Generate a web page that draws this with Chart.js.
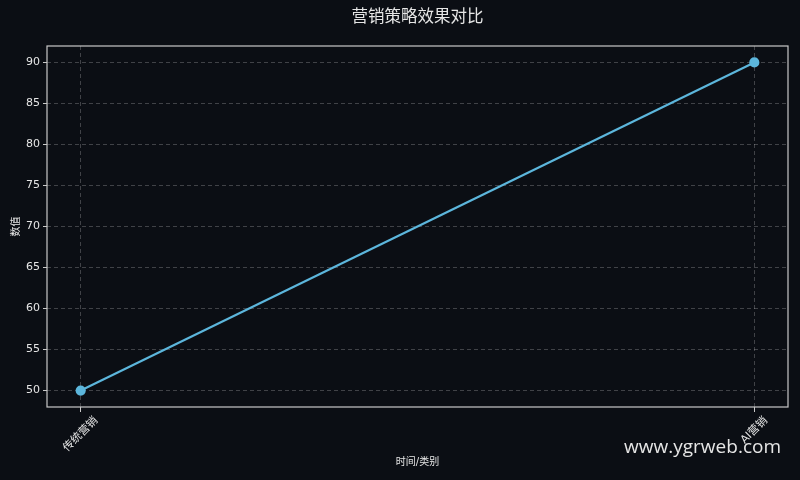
<!DOCTYPE html>
<html>
<head>
<meta charset="utf-8">
<script src="https://cdn.jsdelivr.net/npm/chart.js@4"></script>
<style>
html,body{margin:0;padding:0;background:#0b0e14;}
#wrap{width:800px;height:480px;position:relative;}
</style>
</head>
<body>
<div id="wrap"><canvas id="c" width="800" height="480"></canvas></div>
<script>
const categories = ["传统营销", "AI营销"];
const values = [50, 90];
const yTicks = [50, 55, 60, 65, 70, 75, 80, 85, 90];
const chartTitle = "营销策略效果对比";
const xTitle = "时间/类别";
const yTitle = "数值";
const watermark = "www.ygrweb.com";

const FONT = "'DejaVu Sans', 'Noto Sans CJK SC', sans-serif";
const gridColor = "rgba(255,255,255,0.22)";
const frameColor = "#c9c9c9";
const textColor = "#e6e6e6";
const lineColor = "#5cb6dc";

const framePlugin = {
  id: 'frame',
  beforeDraw(chart) {
    const ctx = chart.ctx;
    ctx.save();
    ctx.fillStyle = '#0b0e14';
    ctx.fillRect(0, 0, chart.width, chart.height);
    ctx.restore();
  },
  afterDraw(chart) {
    const {ctx, chartArea: a} = chart;
    ctx.save();
    ctx.strokeStyle = frameColor;
    ctx.lineWidth = 1.2;
    ctx.strokeRect(a.left, a.top, a.right - a.left, a.bottom - a.top);

    // title centred over the plot area
    ctx.fillStyle = textColor;
    ctx.font = "16.5px " + FONT;
    ctx.textAlign = 'center';
    ctx.textBaseline = 'middle';
    ctx.fillText(chartTitle, (a.left + a.right) / 2, 18);

    // rotated category labels, centred under their ticks (45°)
    const xs = chart.scales.x;
    const fs = 11;
    ctx.font = fs + "px " + FONT;
    categories.forEach((c, i) => {
      const px = xs.getPixelForValue(i);
      const w = ctx.measureText(c).width;
      const bb = (w + fs) * Math.SQRT1_2;
      const cy = a.bottom + 8 + bb / 2;
      ctx.save();
      ctx.translate(px, cy);
      ctx.rotate(-Math.PI / 4);
      ctx.fillText(c, 0, 0);
      ctx.restore();
    });

    ctx.font = "19px 'Open Sans', 'DejaVu Sans', sans-serif";
    ctx.textAlign = 'right';
    ctx.fillText(watermark, 781, 448);
    ctx.restore();
  }
};

new Chart(document.getElementById('c'), {
  type: 'line',
  data: {
    datasets: [{
      data: values.map((v, i) => ({x: i, y: v})),
      borderColor: lineColor,
      backgroundColor: lineColor,
      borderWidth: 2.2,
      pointRadius: 4,
      pointHoverRadius: 4,
      fill: false,
      tension: 0
    }]
  },
  options: {
    responsive: false,
    animation: false,
    devicePixelRatio: 1,
    layout: {padding: {left: 0, right: 12, top: 46, bottom: 0}},
    plugins: {
      legend: {display: false},
      tooltip: {enabled: false},
      title: {display: false}
    },
    scales: {
      x: {
        type: 'linear',
        min: -0.05,
        max: 1.05,
        afterBuildTicks: (s) => { s.ticks = categories.map((c, i) => ({value: i})); },
        afterFit: (s) => { s.height = 73; },
        ticks: {display: false},
        grid: {
          color: gridColor,
          tickColor: frameColor,
          tickLength: 5,
          drawTicks: true
        },
        border: {display: false, dash: [4, 3]},
        title: {
          display: true,
          text: xTitle,
          color: textColor,
          font: {size: 10, family: FONT},
          padding: {top: 0, bottom: 12}
        }
      },
      y: {
        min: 48,
        max: 92,
        afterBuildTicks: (s) => { s.ticks = yTicks.map(v => ({value: v})); },
        afterFit: (s) => { s.width = 47; },
        ticks: {
          color: textColor,
          font: {size: 11, family: FONT},
          padding: 3
        },
        grid: {
          color: gridColor,
          tickColor: frameColor,
          tickLength: 4
        },
        border: {display: false, dash: [4, 3]},
        title: {
          display: true,
          text: yTitle,
          color: textColor,
          font: {size: 10, family: FONT},
          padding: {top: 10, bottom: 2}
        }
      }
    }
  },
  plugins: [framePlugin]
});
</script>
</body>
</html>
